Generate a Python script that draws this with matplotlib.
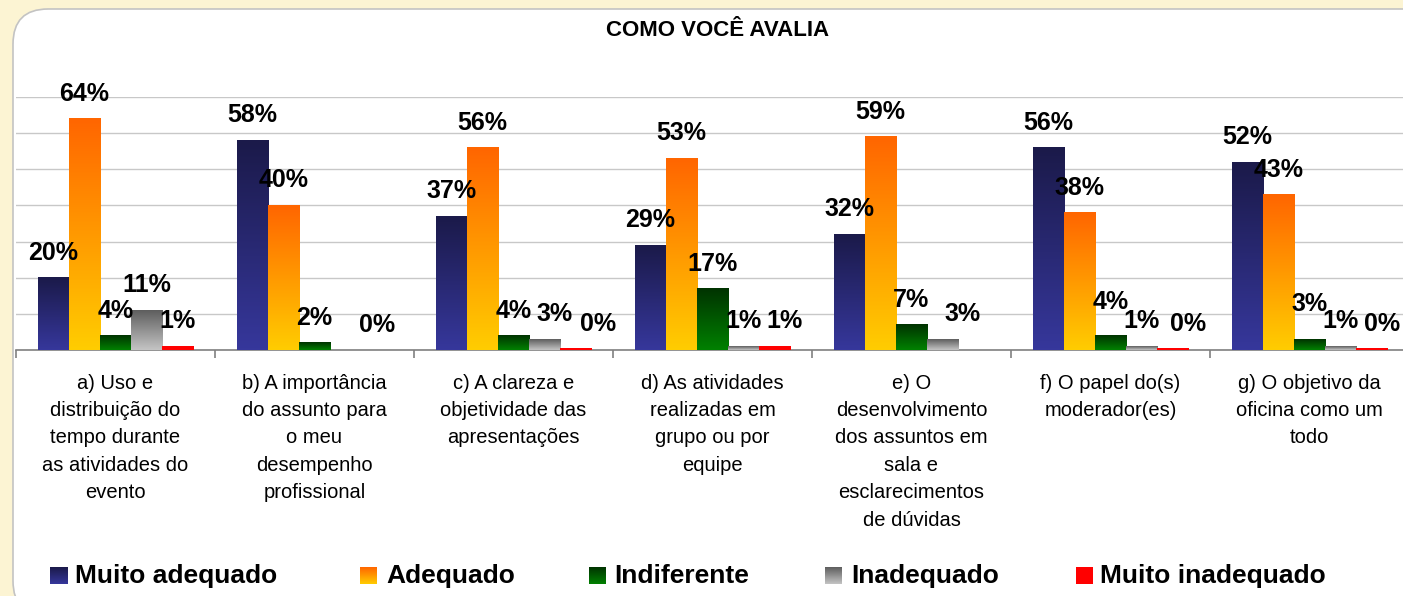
import numpy as np
import matplotlib
matplotlib.use("Agg")
import matplotlib.pyplot as plt
from matplotlib.patches import FancyBboxPatch
from matplotlib.colors import LinearSegmentedColormap

plt.rcParams['font.family'] = ['Liberation Sans', 'DejaVu Sans']

categories = [
    "a) Uso e\ndistribuição do\ntempo durante\nas atividades do\nevento",
    "b) A importância\ndo assunto para\no meu\ndesempenho\nprofissional",
    "c) A clareza e\nobjetividade das\napresentações",
    "d) As atividades\nrealizadas em\ngrupo ou por\nequipe",
    "e) O\ndesenvolvimento\ndos assuntos em\nsala e\nesclarecimentos\nde dúvidas",
    "f) O papel do(s)\nmoderador(es)",
    "g) O objetivo da\noficina como um\ntodo",
]
series = ["Muito adequado", "Adequado", "Indiferente", "Inadequado", "Muito inadequado"]
muito_adequado = [20, 58, 37, 29, 32, 56, 52]
adequado = [64, 40, 56, 53, 59, 38, 43]
indiferente = [4, 2, 4, 17, 7, 4, 3]
inadequado = [11, np.nan, 3, 1, 3, 1, 1]
muito_inadequado = [1, 0, 0.4, 1, np.nan, 0.4, 0.4]
values = [muito_adequado, adequado, indiferente, inadequado, muito_inadequado]

# gradient (top colour, bottom colour) per series
grads = [("#1b1a4a", "#36379b"), ("#ff6600", "#ffcc00"), ("#003300", "#008000"),
         ("#5e5e5e", "#c4c4c4"), ("#ff0000", "#ff0000")]
cmaps = [LinearSegmentedColormap.from_list(f"g{i}", [b, t]) for i, (t, b) in enumerate(grads)]
grad_img = np.linspace(0, 1, 64).reshape(-1, 1)

# some small labels were dragged a little in the original: (series, category) -> (dx, dy) px
nudge = {(3, 2): (10, 0), (3, 4): (20, 0), (4, 2): (22, 0), (4, 3): (10, 0),
         (4, 5): (15, 0), (4, 6): (10, 0), (2, 5): (0, 9), (2, 6): (0, 10)}

W, H = 1403, 596
fig = plt.figure(figsize=(W / 100, H / 100), dpi=100)
fig.patch.set_facecolor("#fcf4d3")

panel = FancyBboxPatch((13 / W, -20 / H), 1.05, (H - 9 + 20) / H,
                       boxstyle="round,pad=0,rounding_size=0.025",
                       transform=fig.transFigure, facecolor="white",
                       edgecolor="#c3c3c3", linewidth=1.2, mutation_aspect=W / H,
                       zorder=-10)
fig.patches.append(panel)

ax = fig.add_axes([16 / W, (H - 350) / H, 1393 / W, 253 / H])
ax.set_facecolor("none")

n = len(categories)
bw = 0.156
x = np.arange(n) + 0.5
for j, (vals, name) in enumerate(zip(values, series)):
    bars = ax.bar(x + (j - 2) * bw, np.nan_to_num(vals), width=bw, color="none",
                  linewidth=0, zorder=3, label=name)
    for i, (b, v) in enumerate(zip(bars, vals)):
        if np.isnan(v):
            continue
        x0, y0, w, h = b.get_x(), b.get_y(), b.get_width(), b.get_height()
        if h > 0:
            ax.imshow(grad_img, cmap=cmaps[j], extent=(x0, x0 + w, y0, y0 + h),
                      origin="lower", aspect="auto", zorder=3, interpolation="bilinear")
        dx, dy = nudge.get((j, i), (0, 0))
        ax.annotate(f"{v:.0f}%", (x0 + w / 2, h), xytext=(dx, 18 + dy),
                    textcoords="offset pixels", ha="center", va="baseline",
                    fontsize=18, fontweight="bold", color="black", zorder=5)

ax.set_xlim(0, n)
ax.set_ylim(0, 70)
ax.set_yticks(np.arange(0, 71, 10))
ax.yaxis.grid(True, color="#c8c8c8", linewidth=1)
ax.set_axisbelow(True)
ax.tick_params(axis="y", length=0, labelleft=False)
for s in ["top", "right", "left"]:
    ax.spines[s].set_visible(False)
ax.spines["bottom"].set_color("#808080")
ax.spines["bottom"].set_linewidth(1.2)

ax.set_xticks(x, categories, fontsize=14.5, linespacing=1.56)
ax.tick_params(axis="x", which="major", length=0, pad=17)
ax.set_xticks(np.arange(n + 1), minor=True)
ax.tick_params(axis="x", which="minor", length=6, color="#808080", width=1.2)

fig.text(718 / W, 1 - 30 / H, "COMO VOCÊ AVALIA", ha="center", va="center",
         fontsize=16, fontweight="bold")

# legend
sq = [50, 360, 589, 825, 1076]
tx = [75, 386, 614, 851, 1100]
for j, name in enumerate(series):
    lax = fig.add_axes([sq[j] / W, (H - 584) / H, 17 / W, 17 / H])
    lax.imshow(grad_img, cmap=cmaps[j], origin="lower", aspect="auto")
    lax.set_axis_off()
    fig.text(tx[j] / W, 1 - 576 / H, name, ha="left", va="center",
             fontsize=19, fontweight="bold")

fig.savefig("out.png", dpi=100, facecolor=fig.get_facecolor())
